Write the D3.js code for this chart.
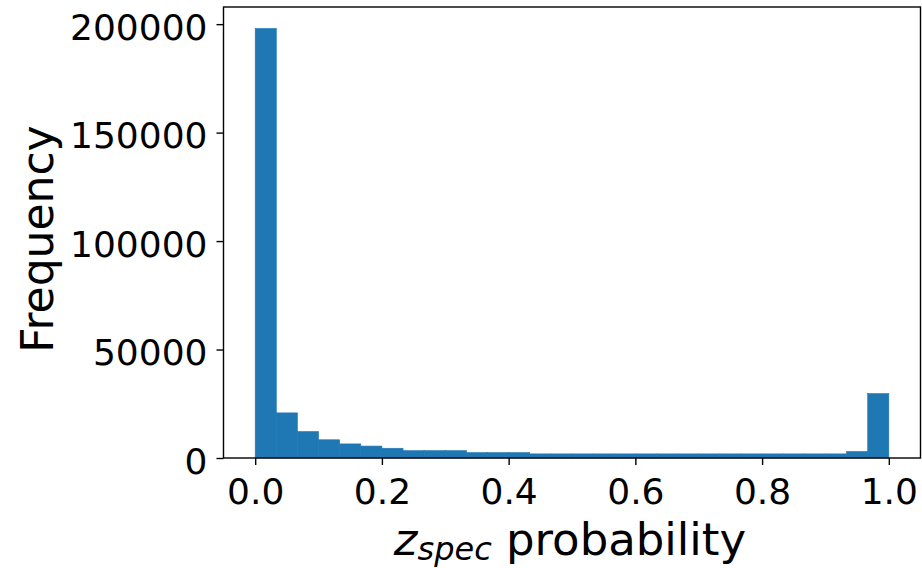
<!DOCTYPE html>
<html>
<head>
<meta charset="utf-8">
<script src="https://cdn.jsdelivr.net/npm/d3@7"></script>
<style>
  html, body { margin: 0; padding: 0; background: #fff; }
  svg { display: block; font-family: "DejaVu Sans", sans-serif; }
  .tick text { fill: #000; }
</style>
</head>
<body>
<svg id="chart" width="922" height="568"></svg>
<script>
// histogram of z_spec probability, 30 equal bins over [0, 1]
const binCount = 30;
const counts = [
  198000, 20800, 12200, 8400, 6500, 5500, 4500, 3400, 3400, 3400,
  2500, 2500, 2500, 1900, 1900, 1900, 1900, 1900, 1900, 1900,
  1900, 1900, 1900, 1900, 1900, 1900, 1900, 1900, 3000, 29700
];
const xTicks = [0, 0.2, 0.4, 0.6, 0.8, 1.0];
const yTicks = [0, 50000, 100000, 150000, 200000];

var margin = {top: 7, right: 1.5, bottom: 110, left: 223.5},
  width = 922 - margin.left - margin.right,
  height = 568 - margin.top - margin.bottom;

var svg = d3.select("#chart")
  .append("g")
  .attr("transform", "translate(" + margin.left + "," + margin.top + ")");

// matplotlib style 5% margins on x, 5% headroom on y
var x = d3.scaleLinear().domain([-0.05, 1.05]).range([0, width]);
var y = d3.scaleLinear().domain([0, d3.max(counts) * 1.05]).range([height, 0]);

var bins = counts.map(function(c, i) {
  return {x0: i / binCount, x1: (i + 1) / binCount, count: c};
});

// thin stroke in the fill colour hides the antialias seams between bars
svg.selectAll(".bar")
  .data(bins)
  .enter().append("rect")
    .attr("class", "bar")
    .attr("x", function(d) { return x(d.x0); })
    .attr("width", function(d) { return x(d.x1) - x(d.x0); })
    .attr("y", function(d) { return y(d.count); })
    .attr("height", function(d) { return height - y(d.count); })
    .attr("fill", "#1f77b4")
    .attr("stroke", "#1f77b4")
    .attr("stroke-width", 0.6);

var xAxis = svg.append("g")
  .attr("transform", "translate(0," + height + ")")
  .call(d3.axisBottom(x).tickValues(xTicks).tickFormat(d3.format(".1f")).tickSize(7).tickPadding(11));

var yAxis = svg.append("g")
  .call(d3.axisLeft(y).tickValues(yTicks).tickFormat(d3.format("d")).tickSize(7).tickPadding(9));

[xAxis, yAxis].forEach(function(a) {
  a.select(".domain").remove();
  a.selectAll(".tick line").attr("stroke", "#000").attr("stroke-width", 1.4);
  a.selectAll(".tick text").attr("font-size", 36).attr("font-family", "DejaVu Sans");
});
yAxis.selectAll(".tick text").attr("dy", "0.42em");
xAxis.selectAll(".tick text").attr("dy", "0.78em");

// frame
svg.append("rect")
  .attr("width", width)
  .attr("height", height)
  .attr("fill", "none")
  .attr("stroke", "#000")
  .attr("stroke-width", 1.4);

// labels
svg.append("text")
  .attr("transform", "translate(" + (53 - margin.left) + "," + (239 - margin.top) + ") rotate(-90)")
  .attr("text-anchor", "middle")
  .attr("font-size", 44)
  .attr("fill", "#000")
  .text("Frequency");

var xl = svg.append("text")
  .attr("x", width / 2 - 2)
  .attr("y", 555 - margin.top)
  .attr("text-anchor", "middle")
  .attr("font-size", 45)
  .attr("fill", "#000");
xl.append("tspan").attr("font-style", "italic").text("z");
xl.append("tspan").attr("font-style", "italic").attr("font-size", 32).attr("dy", 5).text("spec");
xl.append("tspan").attr("dy", -5).text(" probability");
</script>
</body>
</html>
